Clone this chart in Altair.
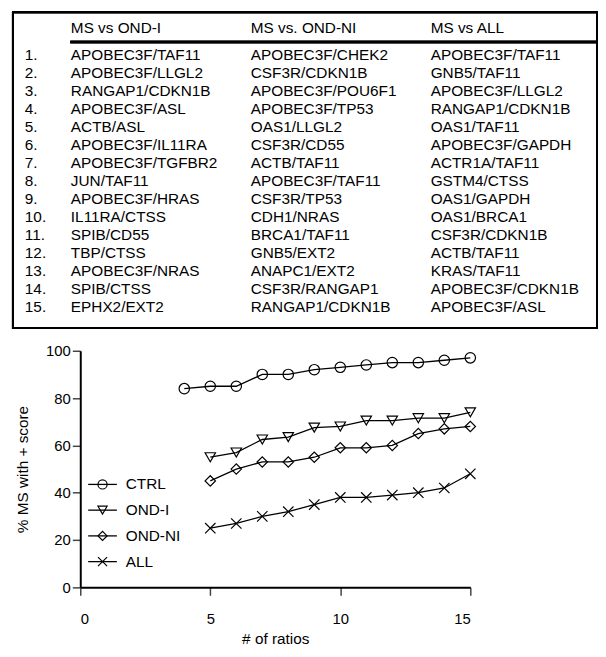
import altair as alt
import pandas as pd

# ---------------- data ----------------
series_names = ["CTRL", "OND-I", "OND-NI", "ALL"]

ctrl_x = [4, 5, 6, 7, 8, 9, 10, 11, 12, 13, 14, 15]
ctrl_y = [84, 85, 85, 90, 90, 92, 93, 94, 95, 95, 96, 97]

other_x = [5, 6, 7, 8, 9, 10, 11, 12, 13, 14, 15]
ond_i_y = [55, 57, 62.5, 63.5, 67.5, 68, 70.5, 70.5, 71.5, 71.5, 74]
ond_ni_y = [45, 50, 53, 53, 55, 59, 59, 60, 65, 67, 68]
all_y = [25, 27, 30, 32, 35, 38, 38, 39, 40, 42, 48]

x_ticks = [0, 5, 10, 15]
y_ticks = [0, 20, 40, 60, 80, 100]

row_numbers = ["1.", "2.", "3.", "4.", "5.", "6.", "7.", "8.", "9.", "10.",
               "11.", "12.", "13.", "14.", "15."]
table_headers = ["MS vs OND-I", "MS vs. OND-NI", "MS vs ALL"]
col_ond_i = ["APOBEC3F/TAF11", "APOBEC3F/LLGL2", "RANGAP1/CDKN1B", "APOBEC3F/ASL",
             "ACTB/ASL", "APOBEC3F/IL11RA", "APOBEC3F/TGFBR2", "JUN/TAF11",
             "APOBEC3F/HRAS", "IL11RA/CTSS", "SPIB/CD55", "TBP/CTSS",
             "APOBEC3F/NRAS", "SPIB/CTSS", "EPHX2/EXT2"]
col_ond_ni = ["APOBEC3F/CHEK2", "CSF3R/CDKN1B", "APOBEC3F/POU6F1", "APOBEC3F/TP53",
              "OAS1/LLGL2", "CSF3R/CD55", "ACTB/TAF11", "APOBEC3F/TAF11",
              "CSF3R/TP53", "CDH1/NRAS", "BRCA1/TAF11", "GNB5/EXT2",
              "ANAPC1/EXT2", "CSF3R/RANGAP1", "RANGAP1/CDKN1B"]
col_all = ["APOBEC3F/TAF11", "GNB5/TAF11", "APOBEC3F/LLGL2", "RANGAP1/CDKN1B",
           "OAS1/TAF11", "APOBEC3F/GAPDH", "ACTR1A/TAF11", "GSTM4/CTSS",
           "OAS1/GAPDH", "OAS1/BRCA1", "CSF3R/CDKN1B", "ACTB/TAF11",
           "KRAS/TAF11", "APOBEC3F/CDKN1B", "APOBEC3F/ASL"]

# ---------------- tables for the library ----------------
rows = []
for name, xs, ys in [("CTRL", ctrl_x, ctrl_y), ("OND-I", other_x, ond_i_y),
                     ("OND-NI", other_x, ond_ni_y), ("ALL", other_x, all_y)]:
    for xv, yv in zip(xs, ys):
        rows.append({"series": name, "ratios": xv, "pct": yv})
df = pd.DataFrame(rows)

cols = ["c1", "c2", "c3"]
cells = []
for ci, colvals in zip(cols, [col_ond_i, col_ond_ni, col_all]):
    for ri, txt in enumerate(colvals):
        cells.append({"col": ci, "row": ri + 1, "text": txt})
cells_df = pd.DataFrame(cells)
nums_df = pd.DataFrame({"row": list(range(1, 16)), "text": row_numbers})
head_df = pd.DataFrame({"col": cols, "text": table_headers})
legend_df = pd.DataFrame({"series": series_names})

FONT = "Liberation Sans"
TFS = 15.5

shape_scale = alt.Scale(domain=series_names,
                        range=["circle", "triangle-down", "diamond",
                               "M-1,-1L1,1M-1,1L1,-1"])

# ---------------- main plot ----------------
x_enc = alt.X("ratios:Q",
              scale=alt.Scale(domain=[0, 15], nice=False),
              axis=alt.Axis(values=x_ticks, title="# of ratios", grid=False,
                            tickSize=8, tickColor="#444", tickWidth=1.5,
                            domainColor="black", domainWidth=2,
                            labelFont=FONT, labelFontSize=15, labelColor="black",
                            labelPadding=17, titleFont=FONT, titleFontSize=TFS,
                            titleFontWeight="normal", titleColor="black",
                            titleX=197, titleY=52, titleBaseline="middle"))
y_enc = alt.Y("pct:Q",
              scale=alt.Scale(domain=[0, 100], nice=False),
              axis=alt.Axis(values=y_ticks, title="% MS with + score", grid=False,
                            tickSize=8, tickColor="#444", tickWidth=1.5,
                            domainColor="black", domainWidth=2,
                            labelFont=FONT, labelFontSize=15, labelColor="black",
                            labelPadding=2, titleFont=FONT, titleFontSize=TFS,
                            titleFontWeight="normal", titleColor="black",
                            titleX=-58, titleY=119.5, titleBaseline="middle",
                            titleAngle=270))

lines = alt.Chart(df).mark_line(color="black", strokeWidth=1.3).encode(
    x=x_enc, y=y_enc, detail="series:N")
points = alt.Chart(df).mark_point(filled=False, color="black", strokeWidth=1.2,
                                  size=110, opacity=1).encode(
    x=x_enc, y=y_enc,
    shape=alt.Shape("series:N", scale=shape_scale, legend=None))
main = alt.layer(lines, points)

# ---------------- legend (drawn inside plot) ----------------
leg_y = alt.Y("series:N", scale=alt.Scale(type="point", domain=series_names,
                                          range=[135, 213], padding=0), axis=None)
leg_rule = alt.Chart(legend_df).mark_rule(color="black", strokeWidth=1.3).encode(
    x=alt.value(8), x2=alt.value(37), y=leg_y)
leg_pts = alt.Chart(legend_df).mark_point(filled=False, color="black", strokeWidth=1.2,
                                          size=85, opacity=1).encode(
    x=alt.value(22.5), y=leg_y,
    shape=alt.Shape("series:N", scale=shape_scale, legend=None))
leg_txt = alt.Chart(legend_df).mark_text(align="left", baseline="middle", font=FONT,
                                         fontSize=TFS, color="black").encode(
    x=alt.value(46), y=leg_y, text="series:N")
legend = alt.layer(leg_rule, leg_pts, leg_txt)

# ---------------- table ----------------
row_y = alt.Y("row:Q", scale=alt.Scale(domain=[1, 15], range=[-299, -44], nice=False,
                                       zero=False), axis=None)
col_x = alt.X("col:N", scale=alt.Scale(type="point", domain=cols,
                                       range=[-9.5, 354], padding=0), axis=None)

box = alt.Chart(legend_df).mark_rect(fillOpacity=0, stroke="black", strokeWidth=2).encode(
    x=alt.value(-68), x2=alt.value(522), y=alt.value(-342), y2=alt.value(-23))
head_rule = alt.Chart(legend_df).mark_rule(color="black", strokeWidth=2.5).encode(
    x=alt.value(-10), x2=alt.value(522), y=alt.value(-312))
head_txt = alt.Chart(head_df).mark_text(align="left", baseline="middle", font=FONT,
                                        fontSize=TFS, color="black").encode(
    x=col_x, y=alt.value(-326), text="text:N")
cell_txt = alt.Chart(cells_df).mark_text(align="left", baseline="middle", font=FONT,
                                         fontSize=TFS, color="black").encode(
    x=col_x, y=row_y, text="text:N")
num_txt = alt.Chart(nums_df).mark_text(align="left", baseline="middle", font=FONT,
                                       fontSize=TFS, color="black").encode(
    x=alt.value(-56), y=row_y, text="text:N")
table = alt.layer(box, head_rule, head_txt, cell_txt, num_txt)

chart = alt.layer(main, legend, table).resolve_scale(
    x="independent", y="independent"
).properties(
    width=394, height=239,
    padding={"left": 73, "top": 343, "right": 129, "bottom": 59},
    autosize=alt.AutoSizeParams(type="none"),
    background="white",
).configure_view(stroke=None)

chart.save("out.html", embed_options={"renderer": "svg", "actions": False})
